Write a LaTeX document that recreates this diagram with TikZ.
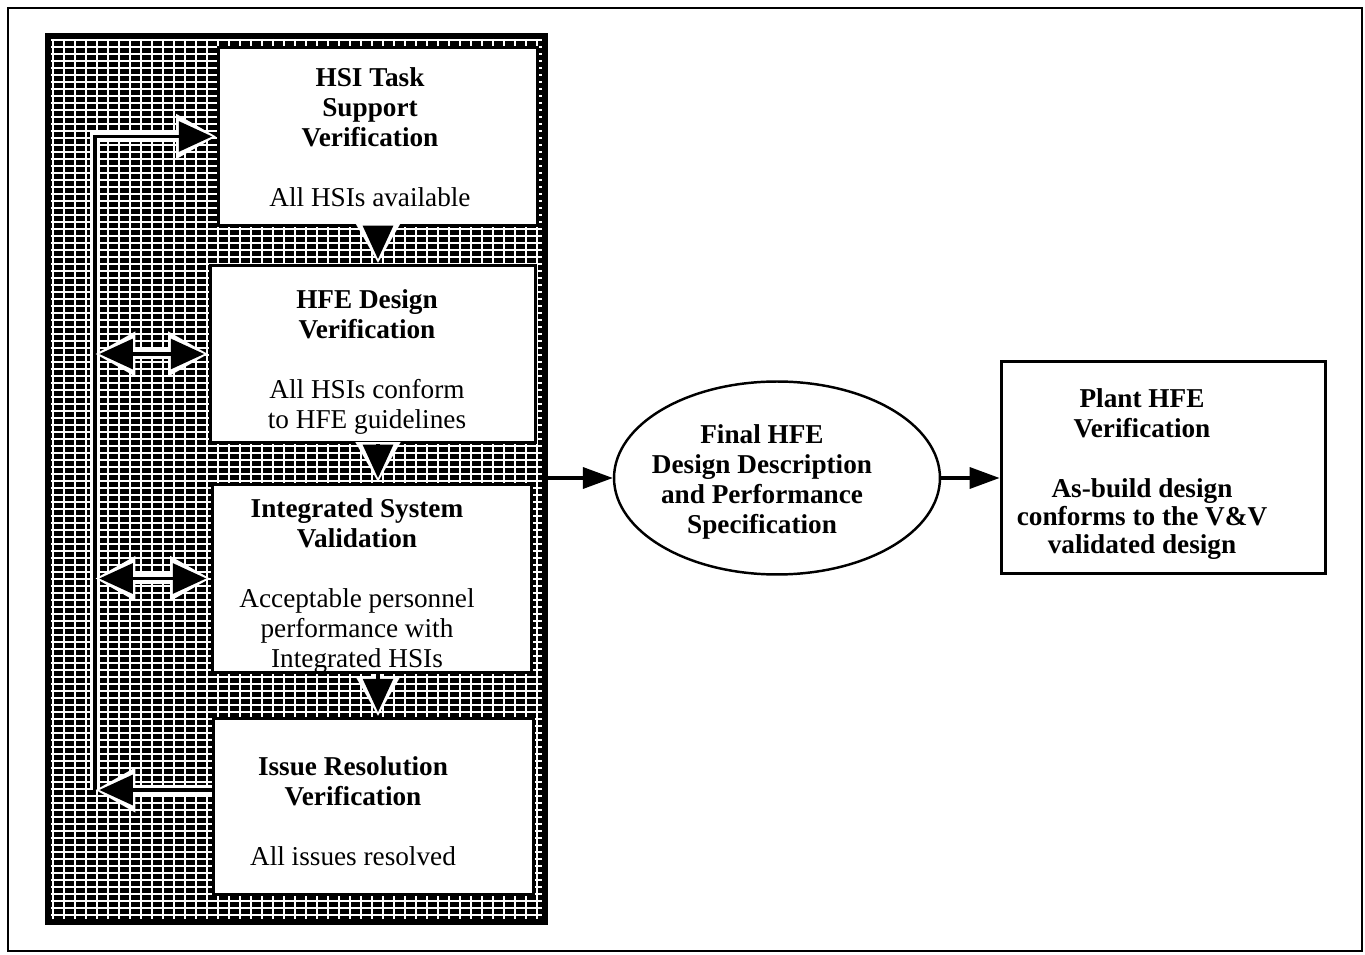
\documentclass[tikz,border=0pt]{standalone}
\usepackage{fontspec}
\setmainfont{Liberation Serif}
\usetikzlibrary{shapes.geometric,arrows.meta}

\tikzset{
  box/.style={draw,fill=white,line width=1.7pt,inner sep=0pt},
  lbl/.style={align=center,font=\fontsize{15.5}{17}\selectfont,inner sep=0pt},
  gridline/.style={white,line width=0.85pt},
  flow/.style={line width=1.8pt,-{Triangle[length=17pt,width=12pt]}},
  hollow/.style={line width=1.8pt,shorten >=2.5pt,-{Triangle[length=19pt,width=17pt]},
    preaction={draw=white,line width=6pt,shorten >=0pt,-{Triangle[length=23pt,width=24pt]}}},
  hollowboth/.style={line width=1.8pt,shorten >=2.5pt,shorten <=2.5pt,
    {Triangle[length=19pt,width=17pt]}-{Triangle[length=19pt,width=17pt]},
    preaction={draw=white,line width=6pt,shorten >=0pt,shorten <=0pt,
      {Triangle[length=23pt,width=24pt]}-{Triangle[length=23pt,width=24pt]}}}
}

\begin{document}
\begin{tikzpicture}[x=0.02cm,y=-0.02cm]
\useasboundingbox (0,0) rectangle (1365,955);
\draw[line width=1.2pt] (8,8) rectangle (1362,951);

% dark hatched panel behind the V&V steps
\node[fill=black,inner sep=0pt,minimum width=10.06cm,minimum height=17.84cm] (panel) at (296.5,479) {};
\foreach \yy in {40,47,...,918}
  \draw[gridline] (51,\yy) -- (542,\yy);
\foreach \xx in {53,64,...,541}
  \draw[gridline] (\xx,39) -- (\xx,919);

\node[box,minimum width=6.4cm,minimum height=3.58cm] (tsv) at (378,136.5) {};
\node[box,minimum width=6.52cm,minimum height=3.56cm] (hfe) at (373,354) {};
\node[box,minimum width=6.4cm,minimum height=3.78cm] (isv) at (372,578.5) {};
\node[box,minimum width=6.42cm,minimum height=3.54cm] (irv) at (373.5,806.5) {};

\node[lbl] (tsvtxt) at (370,137) {\textbf{HSI Task}\\ \textbf{Support}\\ \textbf{Verification}\\[17pt] All HSIs available};
\node[lbl] (hfetxt) at (367,362) {\textbf{HFE Design}\\ \textbf{Verification}\\[17pt] All HSIs conform\\ to HFE guidelines};
\node[lbl] (isvtxt) at (357,586) {\textbf{Integrated System}\\ \textbf{Validation}\\[17pt] Acceptable personnel\\ performance with\\ Integrated HSIs};
\node[lbl] (irvtxt) at (353,811) {\textbf{Issue Resolution}\\ \textbf{Verification}\\[17pt] All issues resolved};

% feedback loop and links on the left
\coordinate (fbbot) at (95,790);
\draw[hollow] (fbbot) |- (tsv.west);
\draw[hollow] (irv.west |- fbbot) -- (fbbot);
\draw[hollowboth] (hfe.west -| fbbot) -- (hfe.west);
\draw[hollowboth] (isv.west -| fbbot) -- (isv.west);

\draw[hollow] (tsv.south) -- (tsv.south |- hfe.north);
\draw[hollow] (hfe.south -| tsv.south) -- (isv.north -| tsv.south);
\draw[hollow] (isv.south -| tsv.south) -- (irv.north -| tsv.south);

\node[draw,ellipse,line width=1.4pt,minimum width=6.52cm,minimum height=3.86cm] (fde) at (777,478) {};
\node[lbl,font=\fontsize{15.5}{17}\selectfont\bfseries] (fdetxt) at (762,482) {Final HFE\\ Design Description\\ and Performance\\ Specification};

\node[box,minimum width=6.5cm,minimum height=4.26cm] (plant) at (1163.5,467.5) {};
\node[lbl,font=\fontsize{15.5}{17}\selectfont\bfseries] (planttxt) at (1142,474) {Plant HFE\\ Verification\\[17pt] As-build design\\[-1pt] conforms to the V\&V\\[-1pt] validated design};

\draw[flow] (panel.east |- fde.west) -- (fde.west);
\draw[flow] (fde.east) -- (fde.east -| plant.west);

\end{tikzpicture}
\end{document}
